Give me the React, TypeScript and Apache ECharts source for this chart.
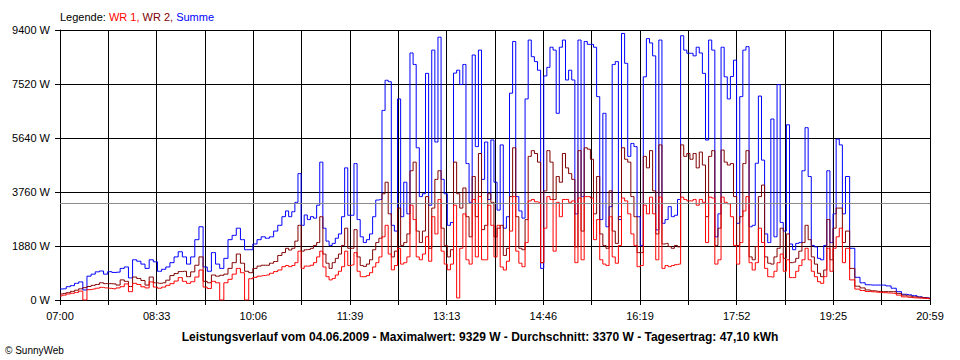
import React, { useEffect, useRef } from "react";
import * as echarts from "echarts";

// x-axis tick labels (start 07:00, end 20:59, 9 labelled intervals)
const tickLabels = ["07:00", "08:33", "10:06", "11:39", "13:13", "14:46", "16:19", "17:52", "19:25", "20:59"];
const axisMinutes = 839; // 07:00 .. 20:59
const yTicks = [0, 1880, 3760, 5640, 7520, 9400];

const maxValue = 9329;
const avgValue = 3370;
const dayYield = "47,10";
const dateText = "04.06.2009";

// sampling grid in minutes after 07:00
const range = (a: number, b: number, s: number) => {
  const r: number[] = [];
  for (let v = a; v <= b; v += s) r.push(v);
  return r;
};
const times = [...range(0, 216, 4), ...range(219, 759, 3), ...range(764, 839, 5)];

// Summe (blue)
const summe = [
  383, 390, 463, 500, 580, 630, 350, 830, 900, 980,
  1010, 900, 986, 960, 970, 1100, 1150, 770, 1400, 1350,
  1250, 1100, 1400, 1330, 1000, 1070, 1150, 1300, 1500, 1680,
  1500, 1250, 1500, 2100, 2550, 1150, 1000, 1650, 1250, 1100,
  1450, 2100, 2250, 2500, 2100, 1750, 1750, 1950, 2100, 2200,
  2150, 2200, 2400, 2600, 2900,
  3100, 2900, 3074, 3400, 4400, 2600, 2960, 2800, 2900, 2850,
  3300, 4800, 2500, 2050, 1900, 1970, 2150, 2300, 2900, 4600,
  2950, 2950, 4750, 2800, 2200, 2000, 2100, 2300, 2900, 3480,
  3500, 6600, 7650, 7600, 2600, 2400, 7000, 2900, 4100, 3000,
  8600, 8200, 5300, 3600, 3700, 7890, 3300, 8700, 5500, 9150,
  4200, 3700, 2600, 2700, 7900, 8000, 7500, 8200, 4750, 3400,
  8530, 5340, 8700, 4200, 5500, 3500, 5570, 4100, 3130, 5400,
  2500, 2900, 7200, 9000, 3600, 3100, 2850, 7000, 9050, 8470,
  8300, 8000, 1100, 7800, 8100, 8800, 8700, 6500, 8800, 9050,
  7660, 8000, 7660, 3000, 9050, 3600, 9000, 8900, 8900, 8800,
  7080, 2800, 6500, 2550, 3250, 8200, 8300, 2800, 9280, 8240,
  5000, 5450, 5340, 2900, 1900, 7770, 9100, 8950, 8500, 2440,
  9050, 2670, 2800, 3250, 2900, 2950, 3500, 9200, 8700, 8590,
  8590, 8500, 8800, 8600, 7890, 5570, 9050, 8700, 2200, 3000,
  8800, 7770, 7000, 7780, 8350, 2670, 7080, 8700, 8820, 2550,
  2600, 4760, 7100, 4870, 2300, 2000, 6300, 2200, 7500, 2700,
  2400, 6100, 1950, 1750, 1970, 2000, 4500, 6000, 4300, 1900,
  1850, 1450, 1400, 1900, 4500, 2000, 3000, 5600, 5400, 3000,
  4300,
  1800, 790, 600, 530, 520, 520, 520, 490, 410, 290, 200, 180, 150, 110, 80, 60,
];

// WR 2 (dark red)
const wr2 = [
  209, 230, 255, 300, 340, 390, 430, 470, 510, 540,
  600, 570, 570, 560, 520, 700, 650, 470, 800, 750,
  680, 520, 800, 600, 580, 600, 690, 850, 920, 990,
  1000, 812, 980, 1210, 1500, 650, 600, 870, 830, 860,
  900, 1100, 1300, 1600, 1280, 1000, 950, 1100, 1180, 1210,
  1210, 1280, 1340, 1550, 1650,
  1800, 1740, 1800, 2050, 2600, 1700, 1750, 1760, 1800, 1900,
  2000, 2900, 1600, 1280, 1100, 1300, 1450, 1600, 1900, 2500,
  1800, 1800, 2450, 1500, 1200, 1170, 1250, 1400, 1750, 2000,
  2150, 3700, 4100, 3000, 1500, 1700, 3200, 1900, 2000, 2300,
  4500, 4800, 2400, 2000, 2400, 3600, 1800, 3200, 4200, 4500,
  2500, 1900, 1500, 1750, 4800, 3700, 3200, 3900, 2900, 2200,
  4300, 2900, 5100, 2450, 2600, 3700, 3400, 2200, 2500, 2600,
  1550, 1800, 3600, 5300, 2900, 1800, 1750, 2800, 5000, 5200,
  5100, 4800, 1300, 3800, 5200, 4800, 3500, 4300, 4100, 5100,
  4600, 4400, 4200, 1850, 5200, 2400, 5300, 5250, 4900, 3000,
  4300, 2300, 1900, 1800, 3800, 2400, 1970, 2900, 5300, 4900,
  4800, 3600, 2900, 1650, 1650, 5000, 4600, 5200, 3800, 2300,
  5400, 1950, 1970, 1860, 1800, 1900, 1850, 5400, 5000, 5100,
  4900, 5100, 4600, 5150, 4700, 2900, 5000, 5200, 1900, 2500,
  5220, 4800, 4700, 4750, 3600, 1900, 2900, 4750, 5200, 1500,
  1400, 1860, 3600, 4000, 1500, 1280, 1250, 1500, 1800, 2500,
  1450, 2300, 1300, 1320, 1450, 1700, 2000, 2600, 2100, 1500,
  1250, 930, 812, 1044, 2800, 1400, 2500, 3200, 3200, 2000,
  2400,
  1100, 480, 420, 350, 320, 300, 290, 290, 290, 230, 170, 140, 110, 95, 75, 55,
];

// WR 1 (red)
const wr1 = [
  139, 170, 209, 235, 265, 310, 0, 360, 380, 410,
  440, 420, 406, 390, 420, 464, 560, 290, 580, 540,
  460, 420, 630, 450, 410, 450, 510, 570, 660, 780,
  650, 580, 637, 800, 1044, 450, 400, 650, 600, 0,
  600, 720, 900, 1100, 950, 0, 740, 790, 830, 850,
  870, 930, 990, 1044, 1160,
  1200, 1160, 1200, 1300, 1700, 1100, 1180, 1180, 1210, 1300,
  1500, 1700, 1150, 812, 700, 750, 870, 1000, 1160, 1700,
  1200, 1220, 1650, 1000, 812, 812, 850, 950, 1150, 1300,
  1500, 2200, 2600, 1600, 1050, 1200, 1800, 1250, 1300, 1500,
  3300, 2800, 1500, 1400, 1600, 2200, 1350, 2900, 2300, 3500,
  1700, 1250, 1050, 1250, 3300, 70, 1800, 3000, 1400, 1250,
  3500, 1500, 3600, 1400, 1400, 3300, 2600, 1500, 2600, 1150,
  1044, 1350, 2400, 3600, 1700, 1280, 1160, 2000, 3450, 3500,
  3420, 3400, 1300, 2500, 3600, 3500, 1700, 3400, 2900, 3500,
  3500, 3400, 3450, 1300, 3550, 1400, 3600, 3600, 3550, 2100,
  2800, 1400, 1250, 1200, 2900, 1500, 1280, 1900, 3550, 3450,
  3000, 2300, 1900, 1160, 1200, 3300, 3000, 3580, 3000, 1400,
  3580, 1100, 1200, 1160, 1200, 1230, 1250, 3580, 3500, 3450,
  3450, 3500, 3300, 3500, 3400, 2000, 3580, 3550, 1250, 1400,
  3580, 3400, 3350, 2900, 1900, 1250, 2000, 3100, 3600, 1300,
  1044, 1300, 2500, 2000, 1100, 812, 800, 1000, 1300, 1600,
  1000, 1400, 780, 780, 1000, 1200, 1400, 1800, 1400, 1000,
  812, 637, 580, 812, 1800, 1000, 1800, 2200, 2500, 1300,
  1800,
  700, 380, 330, 295, 285, 270, 255, 245, 232, 170, 110, 90, 75, 65, 55, 35,
];

const FONT = "'Liberation Sans', Arial, sans-serif";

export default function App() {
  const ref = useRef<HTMLDivElement>(null);

  useEffect(() => {
    if (!ref.current) return;
    const chart = echarts.init(ref.current, undefined, { renderer: "svg" });
    const step = axisMinutes / 18;
    const toPairs = (vals: number[]) => times.map((t, i) => [t, vals[i]]);
    const lineSeries = (name: string, color: string, vals: number[]) => ({
      name,
      type: "line",
      data: toPairs(vals),
      showSymbol: false,
      symbol: "none",
      smooth: false,
      step: "middle",
      lineStyle: { color, width: 1 },
      itemStyle: { color },
      emphasis: { disabled: true },
      silent: true,
    });
    const wr1Series: any = lineSeries("WR 1", "#ff0000", wr1);
    wr1Series.markLine = {
      silent: true,
      symbol: "none",
      label: { show: false },
      lineStyle: { color: "#8c8c8c", width: 1, type: "solid" },
      data: [{ yAxis: avgValue }],
      animation: false,
    };
    const title =
      "Leistungsverlauf vom " + dateText +
      " - Maximalwert: " + maxValue + " W - Durchschnitt: " + avgValue +
      " W - Tagesertrag: " + dayYield + " kWh";

    chart.setOption({
      animation: false,
      backgroundColor: "#ffffff",
      textStyle: { fontFamily: FONT },
      grid: { left: 60, right: 30, top: 30, bottom: 60, containLabel: false },
      xAxis: {
        type: "value",
        min: 0,
        max: axisMinutes,
        interval: step,
        axisLine: { show: true, lineStyle: { color: "#000", width: 1 } },
        axisTick: { show: true, length: 5, lineStyle: { color: "#000" } },
        splitLine: { show: true, lineStyle: { color: "#000", width: 1 } },
        axisLabel: {
          color: "#000",
          fontSize: 11,
          fontFamily: FONT,
          margin: 10,
          showMinLabel: true,
          showMaxLabel: true,
          formatter: (v: number) => {
            const i = Math.round(v / step);
            return i % 2 === 0 ? tickLabels[i / 2] ?? "" : "";
          },
        },
      },
      yAxis: {
        type: "value",
        min: yTicks[0],
        max: yTicks[yTicks.length - 1],
        interval: yTicks[1] - yTicks[0],
        axisLine: { show: true, lineStyle: { color: "#000", width: 1 } },
        axisTick: { show: true, length: 5, lineStyle: { color: "#000" } },
        splitLine: { show: true, lineStyle: { color: "#000", width: 1 } },
        axisLabel: {
          color: "#000",
          fontSize: 11,
          fontFamily: FONT,
          margin: 10,
          formatter: (v: number) => String(Math.round(v)) + " W",
        },
      },
      series: [
        lineSeries("Summe", "#0000ff", summe),
        lineSeries("WR 2", "#800000", wr2),
        wr1Series,
      ],
      graphic: [
        {
          type: "text",
          x: 60,
          y: 17,
          style: {
            text: "{a|Legende: }{b|WR 1, }{c|WR 2, }{d|Summe}",
            verticalAlign: "middle",
            font: "11px " + FONT,
            rich: {
              a: { fill: "#000", fontSize: 11, fontFamily: FONT },
              b: { fill: "#ff0000", fontSize: 11, fontFamily: FONT },
              c: { fill: "#800000", fontSize: 11, fontFamily: FONT },
              d: { fill: "#0000ff", fontSize: 11, fontFamily: FONT },
            },
          },
        },
        {
          type: "text",
          x: 480,
          y: 337,
          style: {
            text: title,
            align: "center",
            verticalAlign: "middle",
            fill: "#000",
            font: "bold 12px " + FONT,
          },
        },
        {
          type: "text",
          x: 5,
          y: 350,
          style: {
            text: "\u00a9 SunnyWeb",
            verticalAlign: "middle",
            fill: "#000",
            font: "10px " + FONT,
          },
        },
      ],
    });
    return () => chart.dispose();
  }, []);

  return (
    <div
      ref={ref}
      style={{ position: "fixed", left: 0, top: 0, width: 960, height: 360, background: "#fff" }}
    />
  );
}
